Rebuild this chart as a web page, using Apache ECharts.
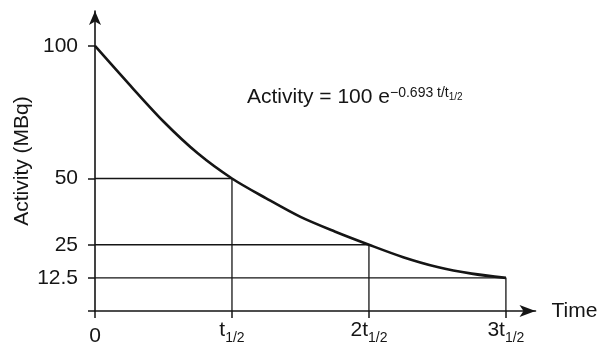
<!DOCTYPE html>
<html>
<head>
<meta charset="utf-8">
<script src="https://cdn.jsdelivr.net/npm/echarts@6/dist/echarts.min.js"></script>
<style>
  html, body { margin: 0; padding: 0; background: #fff; }
  #chart { width: 603px; height: 349px; }
</style>
</head>
<body>
<div id="chart"></div>
<script>
// Decay curve, time in units of the half-life t1/2, activity in MBq
const timeInHalfLives = [0, 0.25, 0.5, 0.75, 1, 1.25, 1.5, 1.75, 2, 2.25, 2.5, 2.75, 3];
const activityMBq = [100, 85.5, 71.5, 59.5, 50, 42.5, 35.5, 30, 25, 20.3, 16.6, 14.1, 12.5];

// Reference points at whole half-lives
const markerHalfLives = [1, 2, 3];
const markerActivity = [50, 25, 12.5];

// Tick positions and labels
const xTickValues = [0, 1, 2, 3];
const xTickText = ['0', 't', '2t', '3t'];
const yTickValues = [0, 12.5, 25, 50, 100];
const yLabelValues = [12.5, 25, 50, 100];

const FONT = "'Liberation Sans', Arial, Helvetica, sans-serif";
const INK = '#151515';

const guideSeries = markerHalfLives.map(function (n, i) {
  const a = markerActivity[i];
  return {
    type: 'line',
    data: [[0, a], [n, a], [n, 0]],
    symbol: 'none',
    silent: true,
    lineStyle: { color: INK, width: 1.3 },
    z: 1
  };
});

const chart = echarts.init(document.getElementById('chart'), null, { renderer: 'canvas' });

chart.setOption({
  animation: false,
  backgroundColor: '#fff',
  textStyle: { fontFamily: FONT, color: INK },
  grid: { left: 95, right: 67.5, top: 11, bottom: 38, containLabel: false, outerBoundsMode: 'none' },
  xAxis: {
    type: 'value',
    min: 0,
    max: 3.216,
    name: 'Time',
    nameLocation: 'end',
    nameGap: 16,
    nameMoveOverlap: false,
    nameTextStyle: { fontFamily: FONT, fontSize: 21, color: INK, verticalAlign: 'middle' },
    splitLine: { show: false },
    axisLine: {
      show: true,
      symbol: ['none', 'arrow'],
      symbolSize: [9, 16],
      lineStyle: { color: INK, width: 1.6 }
    },
    axisTick: {
      show: true,
      inside: false,
      length: 7,
      customValues: xTickValues,
      lineStyle: { color: INK, width: 1.5 }
    },
    axisLabel: {
      show: true,
      margin: 9,
      customValues: xTickValues,
      verticalAlign: 'top',
      formatter: function (v) {
        const i = xTickValues.indexOf(v);
        if (i < 0) return '';
        if (i === 0) return '{z|' + xTickText[i] + '}';
        return '{b|' + xTickText[i] + '}{s|1/2}';
      },
      rich: {
        z: { fontFamily: FONT, fontSize: 21, lineHeight: 21, color: INK, verticalAlign: 'top', padding: [6, 0, 0, 0] },
        b: { fontFamily: FONT, fontSize: 21, lineHeight: 21, color: INK, verticalAlign: 'top' },
        s: { fontFamily: FONT, fontSize: 14, lineHeight: 14, color: INK, verticalAlign: 'top', padding: [11, 0, 0, 0] }
      }
    }
  },
  yAxis: {
    type: 'value',
    min: 0,
    max: 113.2,
    name: 'Activity (MBq)',
    nameLocation: 'middle',
    nameRotate: 90,
    nameGap: 62,
    nameMoveOverlap: false,
    nameTextStyle: { fontFamily: FONT, fontSize: 21, color: INK },
    splitLine: { show: false },
    axisLine: {
      show: true,
      symbol: ['none', 'arrow'],
      symbolSize: [9, 14],
      lineStyle: { color: INK, width: 1.6 }
    },
    axisTick: {
      show: true,
      inside: false,
      length: 7,
      customValues: yTickValues,
      lineStyle: { color: INK, width: 1.5 }
    },
    axisLabel: {
      show: true,
      margin: 17,
      customValues: yLabelValues,
      fontFamily: FONT,
      fontSize: 21,
      color: INK,
      formatter: function (v) { return String(v); }
    }
  },
  graphic: [{
    type: 'text',
    left: 247,
    top: 86,
    silent: true,
    style: {
      text: '{a|Activity = 100 e}{p|\u22120.693 t/t}{q|1/2}',
      rich: {
        a: { fontFamily: FONT, fontSize: 21, lineHeight: 21, fill: INK, verticalAlign: 'bottom' },
        p: { fontFamily: FONT, fontSize: 14, lineHeight: 14, fill: INK, verticalAlign: 'bottom', padding: [0, 0, 8, 0] },
        q: { fontFamily: FONT, fontSize: 10, lineHeight: 10, fill: INK, verticalAlign: 'bottom', padding: [0, 0, 6, 0] }
      }
    }
  }],
  series: guideSeries.concat([{
    type: 'line',
    data: timeInHalfLives.map(function (t, i) { return [t, activityMBq[i]]; }),
    symbol: 'none',
    smooth: 0.3,
    silent: true,
    lineStyle: { color: INK, width: 2.6 },
    z: 3
  }])
});
</script>
</body>
</html>
